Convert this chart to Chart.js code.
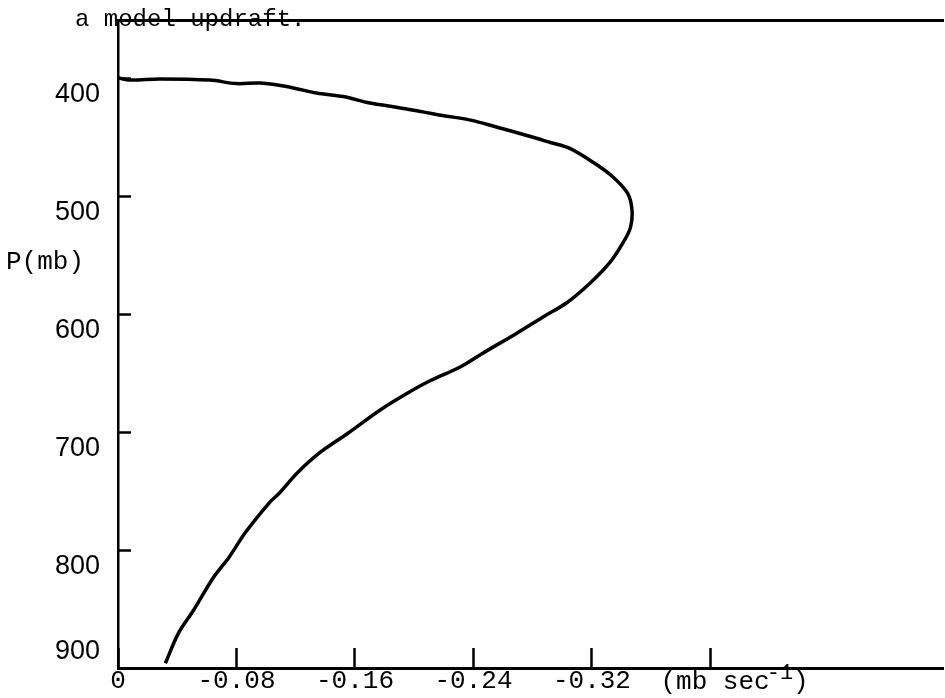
<!DOCTYPE html>
<html>
<head>
<meta charset="utf-8">
<title>a model updraft</title>
<script src="https://cdn.jsdelivr.net/npm/chart.js@4"></script>
<style>
  html, body { margin: 0; padding: 0; background: #fff; }
  #wrap { width: 945px; height: 698px; }
</style>
</head>
<body>
<div id="wrap"><canvas id="omegaChart" width="945" height="698"></canvas></div>
<script>
// Omega (mb/s) vs pressure (mb).
const omega = [
  0, -0.008, -0.028, -0.062, -0.080, -0.096, -0.116, -0.134, -0.152, -0.170,
  -0.188, -0.206, -0.219, -0.238, -0.256, -0.276, -0.292, -0.305, -0.321, -0.334,
  -0.344, -0.347, -0.346, -0.341, -0.332, -0.319, -0.303, -0.287, -0.269, -0.246,
  -0.231, -0.211, -0.195, -0.177, -0.155, -0.136, -0.121, -0.109, -0.102, -0.086,
  -0.075, -0.064, -0.051, -0.041, -0.032
];
const pressure = [
  399, 401, 400, 401, 404, 403.5, 407, 412, 415, 420.5,
  424, 428, 431, 435, 441, 448, 454, 459, 471, 483,
  497, 511, 526, 539, 556, 573, 590, 602, 616, 633,
  644.5, 656, 667, 681, 701, 717.5, 734.5, 751.5, 760, 785,
  806, 824, 851, 870, 896
];

const xTicks = [0, -0.08, -0.16, -0.24, -0.32, -0.40];
const xTickLabels = ['0', '-0.08', '-0.16', '-0.24', '-0.32', ''];
const yTicks = [400, 500, 600, 700, 800, 900];
const yTickLabels = ['400', '500', '600', '700', '800', '900'];

const CAPTION = 'a model updraft.';
const Y_NAME = 'P(mb)';

const MONO = '"Liberation Mono", "Courier New", monospace';
const SANS = '"Liberation Sans", Arial, sans-serif';

// pin the plot box where the original has it; no auto margins from labels
function pinBox(s, w, h) {
  if (w != null) s.width = w;
  if (h != null) s.height = h;
  s.paddingTop = 0;
  s.paddingBottom = 0;
  s.paddingLeft = 0;
  s.paddingRight = 0;
}

// Loose text on the figure that isn't tied to a tick: caption, P(mb), units.
const figureText = {
  id: 'figureText',
  afterDraw(chart) {
    const ctx = chart.ctx;
    const xs = chart.scales.x;
    ctx.save();
    ctx.fillStyle = '#000';
    ctx.textAlign = 'left';

    ctx.font = '24px ' + MONO;
    ctx.textBaseline = 'alphabetic';
    ctx.fillText(CAPTION, 75, 26);

    ctx.font = '26px ' + MONO;
    ctx.textBaseline = 'middle';
    ctx.fillText(Y_NAME, 6, 262);

    // units sit just right of the unlabeled -0.40 tick
    let ux = xs.getPixelForValue(-0.40) - 50;
    const uy = 682;
    ctx.font = '26px ' + MONO;
    ctx.fillText('(mb sec', ux, uy);
    ux += ctx.measureText('(mb sec').width;
    ctx.font = '22px ' + MONO;
    ctx.fillText('-1', ux - 3, uy - 9);
    ux += ctx.measureText('-1').width - 3;
    ctx.font = '26px ' + MONO;
    ctx.fillText(')', ux, uy);
    ctx.restore();
  }
};

new Chart(document.getElementById('omegaChart'), {
  type: 'line',
  data: {
    datasets: [{
      data: omega.map((v, i) => ({ x: v, y: pressure[i] })),
      borderColor: '#000',
      borderWidth: 3.5,
      pointRadius: 0,
      tension: 0.35,
      fill: false
    }]
  },
  options: {
    responsive: false,
    animation: false,
    layout: { padding: { top: 20, right: 2, left: 0, bottom: 0 } },
    plugins: {
      legend: { display: false },
      tooltip: { enabled: false }
    },
    scales: {
      x: {
        type: 'linear',
        position: 'bottom',
        reverse: true,
        min: -0.557,
        max: 0,
        afterBuildTicks: (s) => { s.ticks = xTicks.map((v) => ({ value: v })); },
        afterFit: (s) => pinBox(s, null, 30),
        ticks: {
          autoSkip: false,
          maxRotation: 0,
          padding: 18,
          color: '#000',
          font: { family: MONO, size: 26 },
          callback: (v, i) => xTickLabels[i]
        },
        // negative tick length draws the marks inside the plot, like the original
        grid: { drawOnChartArea: false, drawTicks: true, tickLength: -20, tickWidth: 2.5, color: '#000' },
        border: { color: '#000', width: 3 }
      },
      xTop: {
        type: 'linear',
        position: 'top',
        afterFit: (s) => pinBox(s, null, 0),
        ticks: { display: false },
        grid: { display: false },
        border: { color: '#000', width: 3 }
      },
      y: {
        type: 'linear',
        reverse: true,
        min: 350,
        max: 900,
        afterBuildTicks: (s) => { s.ticks = yTicks.map((v) => ({ value: v })); },
        afterFit: (s) => pinBox(s, 118, null),
        ticks: {
          autoSkip: false,
          padding: 31,
          labelOffset: 16,
          color: '#000',
          font: { family: SANS, size: 27 },
          // the 900 label sits above the bottom axis in the original; pad it with
          // empty lines so it centres higher
          callback: (v, i) => (i === yTickLabels.length - 1 ? [yTickLabels[i], '', ''] : yTickLabels[i])
        },
        grid: { drawOnChartArea: false, drawTicks: true, tickLength: -13, tickWidth: 2.5, color: '#000' },
        border: { color: '#000', width: 2.5 }
      }
    }
  },
  plugins: [figureText]
});
</script>
</body>
</html>
